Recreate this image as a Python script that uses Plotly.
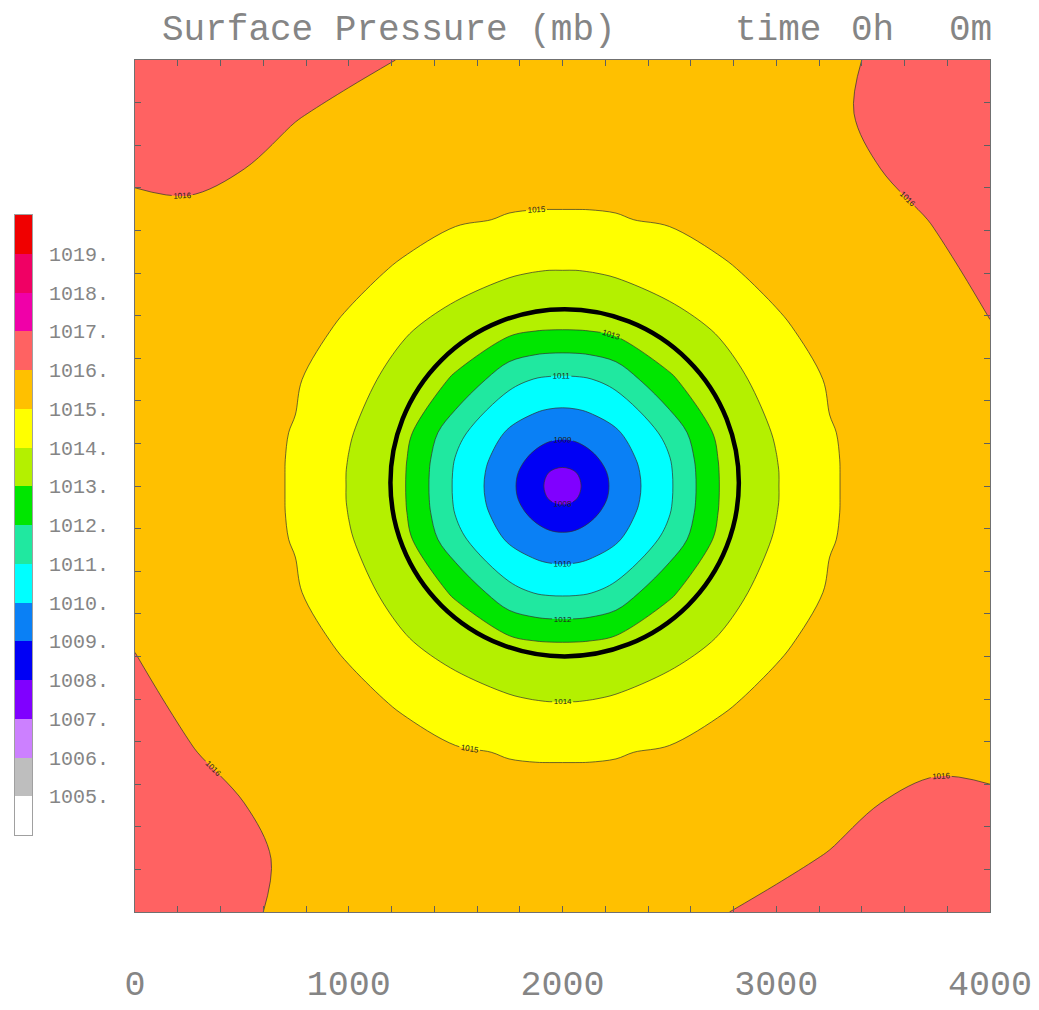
import plotly.graph_objects as go

# ---------------- data ----------------
# grid node positions (km) of the pressure field
x_km = [0, 250, 500, 750, 1000, 1250, 1500, 1750, 1875, 1937.5, 2000, 2062.5, 2125, 2250, 2500, 2750, 3000, 3250, 3500, 3750, 4000]
y_km = [0, 250, 500, 750, 1000, 1250, 1500, 1750, 1875, 1937.5, 2000, 2062.5, 2125, 2250, 2500, 2750, 3000, 3250, 3500, 3750, 4000]

# surface pressure (mb), rows = y_km (bottom -> top), cols = x_km (left -> right)
pressure = [
    [1016.75, 1016.40, 1016.08, 1015.88, 1015.82, 1015.80, 1015.93, 1015.87, 1015.86, 1015.86, 1015.86, 1015.86, 1015.86, 1015.87, 1015.93, 1015.98, 1016.14, 1016.29, 1016.46, 1016.65, 1016.75],
    [1016.65, 1016.40, 1016.12, 1015.90, 1015.80, 1015.74, 1015.64, 1015.58, 1015.56, 1015.55, 1015.55, 1015.55, 1015.56, 1015.58, 1015.64, 1015.74, 1015.87, 1016.04, 1016.22, 1016.40, 1016.40],
    [1016.46, 1016.22, 1016.02, 1015.80, 1015.62, 1015.47, 1015.35, 1015.28, 1015.26, 1015.25, 1015.25, 1015.25, 1015.26, 1015.28, 1015.35, 1015.47, 1015.62, 1015.80, 1016.02, 1016.12, 1016.08],
    [1016.29, 1016.04, 1015.80, 1015.58, 1015.37, 1015.20, 1015.08, 1014.96, 1014.94, 1014.94, 1014.94, 1014.94, 1014.94, 1014.96, 1015.08, 1015.20, 1015.37, 1015.58, 1015.80, 1015.90, 1015.88],
    [1016.14, 1015.87, 1015.62, 1015.37, 1015.15, 1014.92, 1014.45, 1014.06, 1013.98, 1013.95, 1013.95, 1013.95, 1013.98, 1014.06, 1014.45, 1014.92, 1015.15, 1015.37, 1015.62, 1015.80, 1015.82],
    [1015.98, 1015.74, 1015.47, 1015.20, 1014.92, 1014.17, 1013.60, 1013.40, 1013.20, 1013.16, 1013.15, 1013.16, 1013.20, 1013.40, 1013.60, 1014.17, 1014.92, 1015.20, 1015.47, 1015.74, 1015.80],
    [1015.93, 1015.64, 1015.35, 1015.08, 1014.45, 1013.60, 1012.90, 1011.30, 1010.95, 1010.87, 1010.85, 1010.87, 1010.95, 1011.30, 1012.90, 1013.60, 1014.45, 1015.08, 1015.35, 1015.64, 1015.93],
    [1015.87, 1015.58, 1015.28, 1014.96, 1014.06, 1013.40, 1011.30, 1009.86, 1009.43, 1009.30, 1009.25, 1009.30, 1009.43, 1009.86, 1011.30, 1013.40, 1014.06, 1014.96, 1015.28, 1015.58, 1015.87],
    [1015.86, 1015.56, 1015.26, 1014.94, 1013.98, 1013.20, 1010.95, 1009.43, 1008.74, 1008.42, 1008.29, 1008.42, 1008.74, 1009.43, 1010.95, 1013.20, 1013.98, 1014.94, 1015.26, 1015.56, 1015.86],
    [1015.86, 1015.55, 1015.25, 1014.94, 1013.95, 1013.16, 1010.87, 1009.30, 1008.42, 1007.98, 1007.81, 1007.98, 1008.42, 1009.30, 1010.87, 1013.16, 1013.95, 1014.94, 1015.25, 1015.55, 1015.86],
    [1015.86, 1015.55, 1015.25, 1014.94, 1013.95, 1013.15, 1010.85, 1009.25, 1008.29, 1007.81, 1007.40, 1007.81, 1008.29, 1009.25, 1010.85, 1013.15, 1013.95, 1014.94, 1015.25, 1015.55, 1015.86],
    [1015.86, 1015.55, 1015.25, 1014.94, 1013.95, 1013.16, 1010.87, 1009.30, 1008.42, 1007.98, 1007.81, 1007.98, 1008.42, 1009.30, 1010.87, 1013.16, 1013.95, 1014.94, 1015.25, 1015.55, 1015.86],
    [1015.86, 1015.56, 1015.26, 1014.94, 1013.98, 1013.20, 1010.95, 1009.43, 1008.74, 1008.42, 1008.29, 1008.42, 1008.74, 1009.43, 1010.95, 1013.20, 1013.98, 1014.94, 1015.26, 1015.56, 1015.86],
    [1015.87, 1015.58, 1015.28, 1014.96, 1014.06, 1013.40, 1011.30, 1009.86, 1009.43, 1009.30, 1009.25, 1009.30, 1009.43, 1009.86, 1011.30, 1013.40, 1014.06, 1014.96, 1015.28, 1015.58, 1015.87],
    [1015.93, 1015.64, 1015.35, 1015.08, 1014.45, 1013.60, 1012.90, 1011.30, 1010.95, 1010.87, 1010.85, 1010.87, 1010.95, 1011.30, 1012.90, 1013.60, 1014.45, 1015.08, 1015.35, 1015.64, 1015.93],
    [1015.80, 1015.74, 1015.47, 1015.20, 1014.92, 1014.17, 1013.60, 1013.40, 1013.20, 1013.16, 1013.15, 1013.16, 1013.20, 1013.40, 1013.60, 1014.17, 1014.92, 1015.20, 1015.47, 1015.74, 1015.98],
    [1015.82, 1015.80, 1015.62, 1015.37, 1015.15, 1014.92, 1014.45, 1014.06, 1013.98, 1013.95, 1013.95, 1013.95, 1013.98, 1014.06, 1014.45, 1014.92, 1015.15, 1015.37, 1015.62, 1015.87, 1016.14],
    [1015.88, 1015.90, 1015.80, 1015.58, 1015.37, 1015.20, 1015.08, 1014.96, 1014.94, 1014.94, 1014.94, 1014.94, 1014.94, 1014.96, 1015.08, 1015.20, 1015.37, 1015.58, 1015.80, 1016.04, 1016.29],
    [1016.08, 1016.12, 1016.02, 1015.80, 1015.62, 1015.47, 1015.35, 1015.28, 1015.26, 1015.25, 1015.25, 1015.25, 1015.26, 1015.28, 1015.35, 1015.47, 1015.62, 1015.80, 1016.02, 1016.22, 1016.46],
    [1016.40, 1016.40, 1016.22, 1016.04, 1015.87, 1015.74, 1015.64, 1015.58, 1015.56, 1015.55, 1015.55, 1015.55, 1015.56, 1015.58, 1015.64, 1015.74, 1015.80, 1015.90, 1016.12, 1016.40, 1016.65],
    [1016.75, 1016.65, 1016.46, 1016.29, 1016.14, 1015.98, 1015.93, 1015.87, 1015.86, 1015.86, 1015.86, 1015.86, 1015.86, 1015.87, 1015.93, 1015.80, 1015.82, 1015.88, 1016.08, 1016.40, 1016.75],
]

# contour levels (mb) and the colour of each band: below 1005, 1005-1006, ..., above 1019
levels = [1005, 1006, 1007, 1008, 1009, 1010, 1011, 1012, 1013, 1014, 1015, 1016, 1017, 1018, 1019]
level_labels = ["1005.", "1006.", "1007.", "1008.", "1009.", "1010.", "1011.", "1012.",
                "1013.", "1014.", "1015.", "1016.", "1017.", "1018.", "1019."]
band_colors = ["#ffffff", "#bebebe", "#cc80ff", "#8000ff", "#0000f5", "#0a80f5", "#00ffff",
               "#20e8a0", "#00e600", "#b4f000", "#ffff00", "#ffc000", "#ff6262", "#f000a8",
               "#f00064", "#f00000"]
band_centers = [1004.5, 1005.5, 1006.5, 1007.5, 1008.5, 1009.5, 1010.5, 1011.5,
                1012.5, 1013.5, 1014.5, 1015.5, 1016.5, 1017.5, 1018.5, 1019.5]

# thick ring (radius of maximum wind), km
ring_center_x = 2010
ring_center_y = 2015
ring_radius = 815

x_ticks = [0, 1000, 2000, 3000, 4000]

# ---------------- figure ----------------
W, H = 1039, 1010
ML, MR, MT, MB = 15, 49, 60, 98
PW = W - ML - MR
PH = H - MT - MB


def px_x(p):
    return (p - ML) / PW


def px_y(p):
    return (H - MB - p) / PH


nb = len(band_colors)
n_lev = len(levels)
# contour fill colour of band k is sampled at k / n_lev
cs_contour = []
for k, c in enumerate(band_colors):
    lo = max(0.0, (k - 0.5) / n_lev)
    hi = min(1.0, (k + 0.5) / n_lev)
    cs_contour += [[lo, c], [hi, c]]

cs_bar = []
for k, c in enumerate(band_colors):
    cs_bar += [[k / nb, c], [(k + 1) / nb, c]]

font_family = "Liberation Mono, Courier New, monospace"
txt_color = "#858585"

fig = go.Figure()

fig.add_trace(go.Contour(
    x=x_km, y=y_km, z=pressure,
    colorscale=cs_contour,
    showscale=False,
    autocontour=False,
    contours=dict(start=levels[0], end=levels[-1], size=1, coloring="fill",
                  showlabels=True,
                  labelfont=dict(size=8, color="#202020", family="Liberation Sans")),
    line=dict(width=0.7, color="#303030", smoothing=1.0),
    hoverinfo="skip",
    xaxis="x", yaxis="y",
))

fig.add_trace(go.Heatmap(
    x=[0], y=band_centers, z=[[v] for v in band_centers],
    colorscale=cs_bar, zmin=band_centers[0] - 0.5, zmax=band_centers[-1] + 0.5,
    showscale=False, hoverinfo="skip",
    xaxis="x2", yaxis="y2",
))

fig.add_shape(type="circle", xref="x", yref="y",
              x0=ring_center_x - ring_radius, x1=ring_center_x + ring_radius,
              y0=ring_center_y - ring_radius, y1=ring_center_y + ring_radius,
              line=dict(color="black", width=4.5))

tick_style = dict(ticks="inside", ticklen=6, tickcolor="#606060", tickwidth=1)

fig.update_layout(
    width=W, height=H,
    margin=dict(l=ML, r=MR, t=MT, b=MB, pad=0, autoexpand=False),
    paper_bgcolor="white", plot_bgcolor="white",
    showlegend=False,
    xaxis=dict(domain=[px_x(135), 1.0], range=[0, 4000], anchor="y", automargin=False,
               tickvals=x_ticks, ticktext=[str(v) for v in x_ticks],
               tickfont=dict(family=font_family, size=35, color=txt_color),
               ticklabelstandoff=40,
               showgrid=False, zeroline=False, showline=True, linecolor="#707070",
               linewidth=1, mirror="ticks",
               minor=dict(dtick=200, ticks="inside", ticklen=6, tickcolor="#606060"),
               **tick_style),
    yaxis=dict(domain=[0, 1], range=[0, 4000], anchor="x", automargin=False,
               showticklabels=False, dtick=1000,
               showgrid=False, zeroline=False, showline=True, linecolor="#707070",
               linewidth=1, mirror="ticks",
               minor=dict(dtick=200, ticks="inside", ticklen=6, tickcolor="#606060"),
               **tick_style),
    xaxis2=dict(domain=[0, px_x(32)], range=[-0.5, 0.5], anchor="y2", automargin=False,
                showticklabels=False, ticks="", showgrid=False, zeroline=False,
                showline=True, linecolor="#a0a0a0", mirror=True),
    yaxis2=dict(domain=[px_y(835), px_y(215)], range=[1004, 1020], anchor="x2", side="right",
                automargin=False,
                tickvals=levels, ticktext=level_labels, ticks="",
                ticklabelstandoff=12,
                tickfont=dict(family=font_family, size=20, color=txt_color),
                showgrid=False, zeroline=False,
                showline=True, linecolor="#a0a0a0", mirror=True),
)

title_font = dict(family=font_family, size=36, color=txt_color)
fig.add_annotation(text="Surface Pressure (mb)", xref="paper", yref="paper",
                   x=px_x(160), y=px_y(30), xanchor="left", yanchor="middle",
                   showarrow=False, font=title_font)
fig.add_annotation(text="time", xref="paper", yref="paper",
                   x=px_x(733), y=px_y(30), xanchor="left", yanchor="middle",
                   showarrow=False, font=title_font)
fig.add_annotation(text="0h", xref="paper", yref="paper",
                   x=px_x(849), y=px_y(30), xanchor="left", yanchor="middle",
                   showarrow=False, font=title_font)
fig.add_annotation(text="0m", xref="paper", yref="paper",
                   x=px_x(947), y=px_y(30), xanchor="left", yanchor="middle",
                   showarrow=False, font=title_font)

fig.write_html("out.html")
